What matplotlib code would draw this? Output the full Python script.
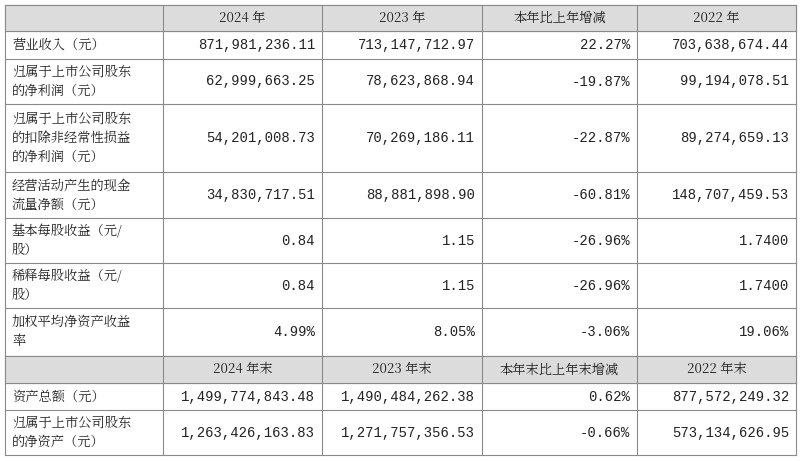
import matplotlib
matplotlib.use("Agg")
import matplotlib.pyplot as plt
from matplotlib.patches import Rectangle
from matplotlib import font_manager as fm

cjk_path = None
for p in fm.findSystemFonts():
    n = p.lower()
    if "notosanscjk" in n.replace("-", "").replace(" ", "") or "notoserifcjk" in n.replace("-", "").replace(" ", ""):
        cjk_path = p
        if "serif" in n:
            break
if cjk_path:
    fm.fontManager.addfont(cjk_path)
    cjk_name = fm.FontProperties(fname=cjk_path).get_name()
else:
    cjk_name = "Noto Sans CJK SC"
plt.rcParams["font.family"] = [cjk_name, "Noto Sans CJK SC", "DejaVu Sans"]

header1 = ["", "2024 年", "2023 年", "本年比上年增减", "2022 年"]
header2 = ["", "2024 年末", "2023 年末", "本年末比上年末增减", "2022 年末"]
labels1 = ["营业收入（元）", "归属于上市公司股东\n的净利润（元）",
           "归属于上市公司股东\n的扣除非经常性损益\n的净利润（元）",
           "经营活动产生的现金\n流量净额（元）", "基本每股收益（元/\n股）",
           "稀释每股收益（元/\n股）", "加权平均净资产收益\n率"]
col2024 = ["871,981,236.11", "62,999,663.25", "54,201,008.73", "34,830,717.51", "0.84", "0.84", "4.99%"]
col2023 = ["713,147,712.97", "78,623,868.94", "70,269,186.11", "88,881,898.90", "1.15", "1.15", "8.05%"]
colchg = ["22.27%", "-19.87%", "-22.87%", "-60.81%", "-26.96%", "-26.96%", "-3.06%"]
col2022 = ["703,638,674.44", "99,194,078.51", "89,274,659.13", "148,707,459.53", "1.7400", "1.7400", "19.06%"]
labels2 = ["资产总额（元）", "归属于上市公司股东\n的净资产（元）"]
end2024 = ["1,499,774,843.48", "1,263,426,163.83"]
end2023 = ["1,490,484,262.38", "1,271,757,356.53"]
endchg = ["0.62%", "-0.66%"]
end2022 = ["877,572,249.32", "573,134,626.95"]

xs = [5, 163, 322, 482, 637, 796]
ys = [5, 31, 59, 104, 172, 218, 263, 308, 356, 383, 410, 455]

fig = plt.figure(figsize=(8, 4.61), dpi=100)
ax = fig.add_axes([0, 0, 1, 1])
ax.set_xlim(0, 800); ax.set_ylim(461, 0); ax.axis("off")

gray = "#dcdcdc"
for i in (0, 8):
    ax.add_patch(Rectangle((xs[0], ys[i]), xs[-1]-xs[0], ys[i+1]-ys[i], color=gray, zorder=0))

lc = "#8a8a8a"
for y in ys:
    ax.plot([xs[0], xs[-1]], [y, y], color=lc, lw=0.8)
for x in xs:
    ax.plot([x, x], [ys[0], ys[-1]], color=lc, lw=0.8)

fs = 9.5
numfont = "Liberation Mono"
def header(row, h):
    yc = (ys[row] + ys[row+1]) / 2
    for j in range(1, 5):
        ax.text((xs[j]+xs[j+1])/2, yc, h[j], ha="center", va="center", fontsize=fs, color="#222")

def body(rows, labs, cols):
    for k, r in enumerate(rows):
        yc = (ys[r] + ys[r+1]) / 2
        ax.text(xs[0]+7, yc, labs[k], ha="left", va="center", fontsize=fs, color="#222", linespacing=1.45)
        for j, c in enumerate(cols):
            ax.text(xs[j+2]-7, yc, c[k], ha="right", va="center", fontsize=fs + 0.5,
                    color="#222", family=numfont)

header(0, header1)
body(range(1, 8), labels1, [col2024, col2023, colchg, col2022])
header(8, header2)
body([9, 10], labels2, [end2024, end2023, endchg, end2022])

fig.savefig("out.png", dpi=100)
